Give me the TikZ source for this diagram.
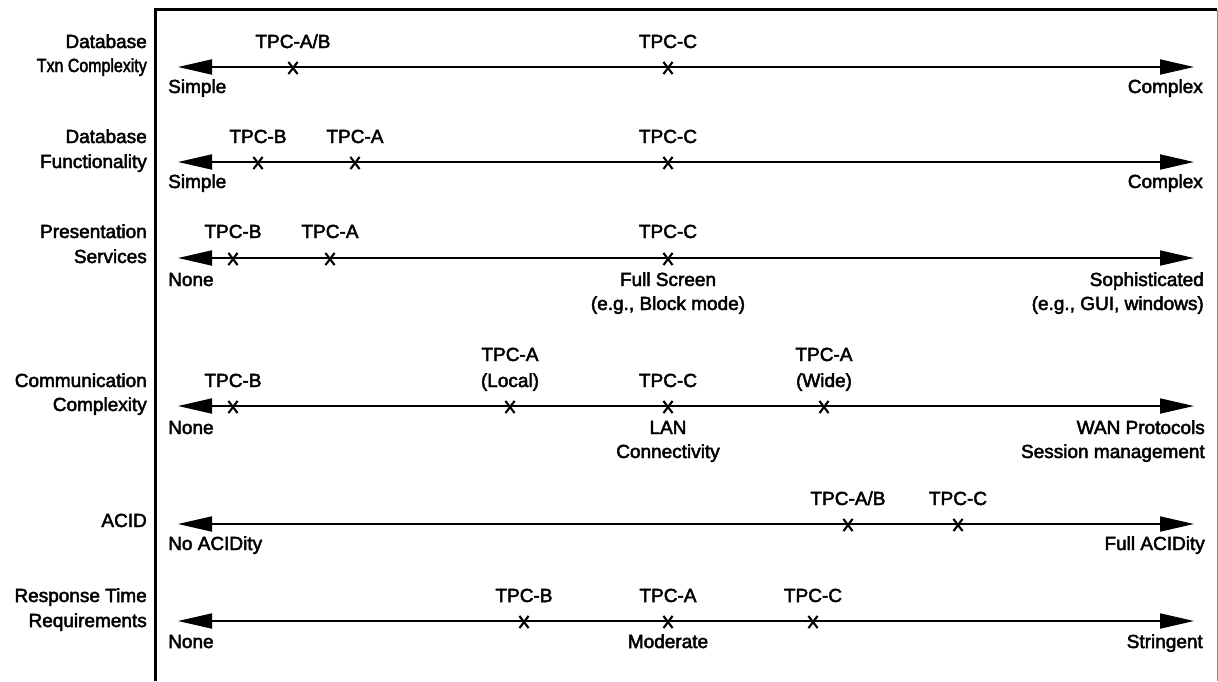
\documentclass[tikz,border=0pt]{standalone}
\usepackage{fontspec}
\setmainfont{Liberation Sans}[FakeBold=2.5]
\usetikzlibrary{arrows.meta,shapes.misc}
\tikzset{
  lab/.style={font=\fontsize{19}{22}\selectfont, inner sep=0pt, anchor=base},
  labl/.style={lab, anchor=base west},
  labr/.style={lab, anchor=base east},
  axis/.style={line width=1.8pt, {Triangle[length=34pt,width=15pt]}-{Triangle[length=34pt,width=15pt]}},
  xmk/.style={cross out, draw, line width=2.1pt, minimum width=7pt, minimum height=10pt, inner sep=0pt},
  frame/.style={line width=3pt},
}
\begin{document}
\begin{tikzpicture}[x=1pt,y=-1pt]
\useasboundingbox (0,0) rectangle (1218,681);
% frame
\coordinate (fb) at (155,681);
\coordinate (ftl) at (155,9.5);
\coordinate (ftr) at (1217,9.5);
\coordinate (fbr) at (1217,681);
\draw[frame] (fb) -- (ftl) -- (ftr);
\draw[line width=0.6pt, black!45] (ftr) -- (fbr);

% ---------- Row 1 ----------
\node[labr] (r1a) at (147,48) {Database};
\node[labr] (r1b) at (147,72) {\scalebox{0.84}[1]{Txn Complexity}};
\coordinate (a1l) at (178,67);
\coordinate (a1r) at (1194,67);
\draw[axis] (a1l) -- (a1r);
\node[xmk] (m1a) at (293,68) {};
\node[xmk] (m1b) at (668,68) {};
\node[lab] (t1a) at (293,48) {TPC-A/B};
\node[lab] (t1b) at (668,48) {TPC-C};
\node[labl] (s1l) at (168,93) {Simple};
\node[labr] (s1r) at (1203,93) {Complex};

% ---------- Row 2 ----------
\node[labr] (r2a) at (147,143) {Database};
\node[labr] (r2b) at (147,168) {Functionality};
\coordinate (a2l) at (178,162);
\coordinate (a2r) at (1194,162);
\draw[axis] (a2l) -- (a2r);
\node[xmk] (m2a) at (258,163) {};
\node[xmk] (m2b) at (355,163) {};
\node[xmk] (m2c) at (668,163) {};
\node[lab] (t2a) at (258,143) {TPC-B};
\node[lab] (t2b) at (355,143) {TPC-A};
\node[lab] (t2c) at (668,143) {TPC-C};
\node[labl] (s2l) at (168,188) {Simple};
\node[labr] (s2r) at (1203,188) {Complex};

% ---------- Row 3 ----------
\node[labr] (r3a) at (147,238) {Presentation};
\node[labr] (r3b) at (147,263) {Services};
\coordinate (a3l) at (178,258);
\coordinate (a3r) at (1194,258);
\draw[axis] (a3l) -- (a3r);
\node[xmk] (m3a) at (233,259) {};
\node[xmk] (m3b) at (330,259) {};
\node[xmk] (m3c) at (668,259) {};
\node[lab] (t3a) at (233,238) {TPC-B};
\node[lab] (t3b) at (330,238) {TPC-A};
\node[lab] (t3c) at (668,238) {TPC-C};
\node[labl] (s3l) at (168,286) {None};
\node[lab] (s3m) at (668,286) {Full Screen};
\node[lab] (s3m2) at (668,310) {(e.g., Block mode)};
\node[labr] (s3r) at (1204,286) {Sophisticated};
\node[labr] (s3r2) at (1204,310) {(e.g., GUI, windows)};

% ---------- Row 4 ----------
\node[labr] (r4a) at (147,387) {Communication};
\node[labr] (r4b) at (147,411) {Complexity};
\coordinate (a4l) at (178,406);
\coordinate (a4r) at (1194,406);
\draw[axis] (a4l) -- (a4r);
\node[xmk] (m4a) at (233,407) {};
\node[xmk] (m4b) at (510,407) {};
\node[xmk] (m4c) at (668,407) {};
\node[xmk] (m4d) at (824,407) {};
\node[lab] (t4a) at (233,387) {TPC-B};
\node[lab] (t4b) at (510,361) {TPC-A};
\node[lab] (t4b2) at (510,387) {(Local)};
\node[lab] (t4c) at (668,387) {TPC-C};
\node[lab] (t4d) at (824,361) {TPC-A};
\node[lab] (t4d2) at (824,387) {(Wide)};
\node[labl] (s4l) at (168,434) {None};
\node[lab] (s4m) at (668,434) {LAN};
\node[lab] (s4m2) at (668,458) {Connectivity};
\node[labr] (s4r) at (1205,434) {WAN Protocols};
\node[labr] (s4r2) at (1205,458) {Session management};

% ---------- Row 5 ----------
\node[labr] (r5a) at (147,527) {ACID};
\coordinate (a5l) at (178,524);
\coordinate (a5r) at (1194,524);
\draw[axis] (a5l) -- (a5r);
\node[xmk] (m5a) at (848,525) {};
\node[xmk] (m5b) at (958,525) {};
\node[lab] (t5a) at (848,505) {TPC-A/B};
\node[lab] (t5b) at (958,505) {TPC-C};
\node[labl] (s5l) at (168,550) {No ACIDity};
\node[labr] (s5r) at (1205,550) {Full ACIDity};

% ---------- Row 6 ----------
\node[labr] (r6a) at (147,602) {Response Time};
\node[labr] (r6b) at (147,627) {Requirements};
\coordinate (a6l) at (178,621);
\coordinate (a6r) at (1194,621);
\draw[axis] (a6l) -- (a6r);
\node[xmk] (m6a) at (524,622) {};
\node[xmk] (m6b) at (668,622) {};
\node[xmk] (m6c) at (813,622) {};
\node[lab] (t6a) at (524,602) {TPC-B};
\node[lab] (t6b) at (668,602) {TPC-A};
\node[lab] (t6c) at (813,602) {TPC-C};
\node[labl] (s6l) at (168,648) {None};
\node[lab] (s6m) at (668,648) {Moderate};
\node[labr] (s6r) at (1203,648) {Stringent};
\end{tikzpicture}
\end{document}
